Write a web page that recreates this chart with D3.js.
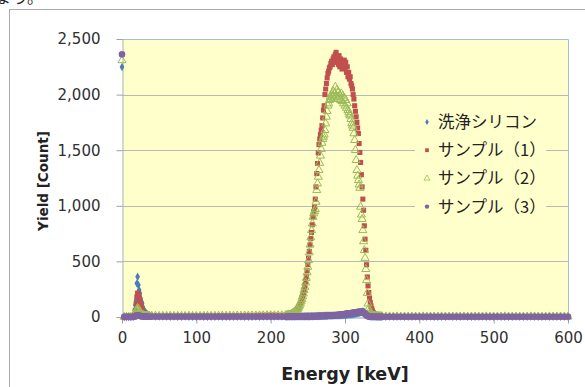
<!DOCTYPE html>
<html>
<head>
<meta charset="utf-8">
<script src="https://cdn.jsdelivr.net/npm/d3@7"></script>
<style>
  body { margin: 0; background: #fff; }
  svg { display: block; }
</style>
</head>
<body>
<svg id="chart" width="585" height="387"></svg>
<script>
// channel energies [keV]
const energy = [
  0, 3, 6, 9, 12, 15, 17, 18, 19, 20, 21, 22, 23, 24, 25, 26, 27, 28, 29, 30, 31, 32, 33, 34, 35, 37, 40,
  45, 50, 55, 60, 65, 70, 75, 80, 85, 90, 95, 100, 105, 110, 115, 120, 125, 130, 135, 140, 145, 150, 155, 160, 165, 170, 175, 180, 185, 190, 195, 200, 205, 210, 215,
  220, 221, 222, 223, 224, 225, 226, 227, 228, 229,
  230, 231, 232, 233, 234, 235, 236, 237, 238, 239,
  240, 241, 242, 243, 244, 245, 246, 247, 248, 249,
  250, 251, 252, 253, 254, 255, 256, 257, 258, 259,
  260, 261, 262, 263, 264, 265, 266, 267, 268, 269,
  270, 271, 272, 273, 274, 275, 276, 277, 278, 279,
  280, 281, 282, 283, 284, 285, 286, 287, 288, 289,
  290, 291, 292, 293, 294, 295, 296, 297, 298, 299,
  300, 301, 302, 303, 304, 305, 306, 307, 308, 309,
  310, 311, 312, 313, 314, 315, 316, 317, 318, 319,
  320, 321, 322, 323, 324, 325, 326, 327, 328, 329,
  330, 331, 332, 333, 334, 335, 336, 337, 338, 339,
  340, 341, 342, 343, 344, 345, 346, 347, 348, 349, 350,
  355, 360, 365, 370, 375, 380, 385, 390, 395, 400, 405, 410, 415, 420, 425, 430, 435, 440, 445, 450,
  455, 460, 465, 470, 475, 480, 485, 490, 495, 500, 505, 510, 515, 520, 525, 530, 535, 540, 545, 550,
  555, 560, 565, 570, 575, 580, 585, 590, 595, 600
]

// 洗浄シリコン
const cleanSi = [
  2248, 0, 0, 0, 0, 0, 60, 108, 153, 303, 362, 288, 243, 213, 168, 140, 123, 90, 70, 55, 45, 38, 33, 25, 18, 12, 8,
  4, 3, 3, 3, 2, 3, 2, 2, 3, 2, 2, 2, 3, 2, 2, 2, 2, 3, 2, 2, 2, 2, 2, 3, 2, 2, 2, 3, 2, 3, 3, 3, 4, 4, 4,
  4, 4, 5, 4, 5, 4, 5, 5, 4, 5,
  5, 5, 4, 5, 5, 6, 5, 5, 6, 5,
  6, 6, 5, 6, 6, 7, 6, 6, 7, 6,
  7, 7, 6, 7, 7, 8, 7, 7, 8, 8,
  8, 8, 9, 8, 9, 9, 9, 10, 9, 10,
  10, 10, 11, 10, 11, 11, 12, 11, 12, 12,
  12, 13, 12, 13, 14, 13, 14, 14, 15, 14,
  15, 16, 15, 16, 17, 16, 17, 18, 17, 18,
  19, 20, 19, 21, 22, 21, 23, 24, 23, 25,
  26, 27, 28, 29, 30, 32, 33, 35, 36, 38,
  40, 42, 45, 48, 50, 47, 44, 40, 34, 28,
  20, 14, 10, 7, 5, 4, 4, 3, 3, 3,
  3, 3, 3, 2, 3, 2, 3, 2, 2, 3, 2,
  2, 3, 2, 2, 3, 2, 2, 2, 3, 2, 2, 2, 3, 2, 2, 2, 2, 3, 2, 2,
  2, 3, 2, 2, 2, 2, 3, 2, 2, 2, 3, 2, 2, 2, 2, 3, 2, 2, 2, 3,
  2, 2, 2, 3, 2, 2, 2, 2, 3, 2
]

// サンプル（1）
const sample1 = [
  2360, 0, 0, 0, 0, 0, 20, 60, 120, 180, 215, 210, 185, 150, 120, 95, 70, 52, 40, 30, 24, 20, 17, 15, 13, 12, 11,
  11, 10, 10, 11, 10, 9, 10, 9, 10, 11, 10, 9, 10, 11, 10, 11, 12, 11, 12, 12, 11, 12, 13, 12, 13, 14, 13, 14, 15, 15, 16, 17, 16, 15, 15,
  15, 16, 17, 18, 20, 22, 24, 27, 30, 34,
  38, 43, 48, 54, 60, 67, 76, 86, 98, 112,
  128, 146, 166, 190, 216, 245, 280, 320, 365, 415,
  470, 530, 590, 650, 705, 760, 830, 900, 950, 990,
  1060, 1170, 1290, 1380, 1475, 1550, 1600, 1640, 1680, 1720,
  1790, 1860, 1900, 2000, 2050, 2100, 2150, 2190, 2210, 2240,
  2250, 2280, 2300, 2270, 2320, 2340, 2290, 2360, 2380, 2330,
  2300, 2270, 2350, 2250, 2320, 2280, 2230, 2300, 2260, 2310,
  2240, 2290, 2200, 2250, 2160, 2200, 2140, 2160, 2100, 2080,
  2050, 2000, 1960, 1900, 1850, 1800, 1750, 1700, 1650, 1560,
  1480, 1390, 1280, 1170, 1060, 960, 820, 700, 600, 470,
  360, 280, 220, 170, 130, 100, 75, 55, 40, 30,
  22, 18, 15, 12, 10, 8, 7, 6, 5, 5, 4,
  4, 3, 4, 3, 3, 4, 3, 3, 3, 4, 3, 3, 3, 4, 3, 3, 3, 3, 4, 3,
  3, 3, 3, 3, 4, 3, 3, 3, 3, 3, 4, 3, 3, 3, 3, 3, 3, 4, 3, 3,
  3, 3, 3, 3, 3, 4, 3, 3, 3, 3
]

// サンプル（2）
const sample2 = [
  2308, 0, 0, 0, 0, 0, 10, 25, 45, 70, 80, 75, 60, 45, 35, 28, 22, 18, 15, 13, 12, 11, 11, 10, 10, 10, 10,
  10, 9, 9, 9, 10, 9, 8, 9, 9, 10, 9, 8, 9, 9, 10, 9, 10, 10, 11, 10, 11, 11, 12, 11, 12, 12, 13, 12, 13, 14, 14, 15, 14, 14, 14,
  14, 15, 15, 16, 17, 19, 21, 23, 26, 29,
  33, 37, 42, 48, 55, 62, 70, 80, 92, 106,
  122, 140, 160, 185, 210, 240, 270, 310, 350, 400,
  450, 510, 580, 650, 715, 780, 840, 900, 930, 950,
  970, 1035, 1140, 1200, 1260, 1320, 1385, 1450, 1510, 1565,
  1600, 1620, 1640, 1680, 1740, 1800, 1850, 1900, 1920, 1950,
  1980, 1960, 2000, 1990, 2030, 1970, 2010, 2070, 1990, 2040,
  1960, 2020, 1980, 2000, 1950, 2010, 1940, 1990, 1920, 1970,
  1900, 1950, 1880, 1920, 1860, 1840, 1820, 1810, 1780, 1740,
  1720, 1700, 1650, 1590, 1500, 1410, 1320, 1270, 1230, 1190,
  1160, 990, 920, 880, 780, 680, 600, 530, 430, 330,
  215, 120, 75, 50, 35, 25, 18, 14, 12, 11,
  10, 9, 8, 8, 7, 7, 6, 6, 6, 5, 5,
  4, 4, 3, 4, 3, 3, 4, 3, 3, 3, 4, 3, 3, 3, 3, 4, 3, 3, 3, 3,
  3, 4, 3, 3, 3, 3, 3, 4, 3, 3, 3, 3, 4, 3, 3, 3, 3, 3, 3, 4,
  3, 3, 3, 3, 4, 3, 3, 3, 3, 3
]

// サンプル（3）
const sample3 = [
  2362, 1, 1, 1, 1, 2, 5, 8, 12, 15, 15, 14, 12, 10, 8, 7, 6, 5, 5, 4, 4, 4, 4, 3, 3, 3, 3,
  3, 3, 2, 3, 2, 3, 2, 2, 3, 2, 2, 3, 2, 2, 2, 3, 2, 2, 2, 3, 2, 2, 2, 3, 2, 3, 3, 3, 3, 3, 3, 3, 3, 3, 3,
  3, 3, 4, 3, 3, 4, 3, 4, 3, 4,
  4, 3, 4, 4, 4, 3, 4, 4, 4, 5,
  4, 5, 4, 5, 5, 4, 5, 5, 5, 6,
  5, 6, 5, 6, 6, 6, 7, 6, 7, 7,
  7, 7, 8, 7, 8, 8, 8, 9, 8, 9,
  9, 10, 9, 10, 10, 11, 10, 11, 11, 12,
  12, 12, 13, 13, 14, 14, 15, 15, 16, 17,
  17, 18, 19, 20, 21, 22, 23, 24, 25, 26,
  27, 28, 29, 30, 31, 32, 33, 34, 35, 36,
  37, 38, 40, 41, 42, 43, 44, 45, 46, 46,
  47, 47, 46, 45, 42, 38, 33, 27, 21, 15,
  10, 7, 5, 4, 3, 3, 3, 2, 3, 2,
  2, 3, 2, 2, 3, 2, 2, 2, 3, 2, 2,
  2, 2, 2, 2, 2, 2, 2, 2, 2, 2, 2, 2, 2, 2, 2, 2, 2, 2, 2, 2,
  2, 2, 2, 2, 2, 2, 2, 2, 2, 2, 2, 2, 2, 2, 2, 2, 2, 2, 2, 2,
  2, 2, 2, 2, 2, 2, 2, 2, 2, 2
]

const seriesNames = ["洗浄シリコン", "サンプル（1）", "サンプル（2）", "サンプル（3）"]
const xTicks = [0, 100, 200, 300, 400, 500, 600]
const yTicks = [0, 500, 1000, 1500, 2000, 2500]

const plot = { left: 122, right: 568, top: 39, bottom: 317 }
const numFont = "'DejaVu Sans', Verdana, sans-serif"
const jpFont = "'Noto Sans CJK JP', 'Noto Sans', sans-serif"

const series = [
  { name: seriesNames[0], values: cleanSi, color: "#4a7ebb", symbol: d3.symbolDiamond, size: 20, open: false },
  { name: seriesNames[1], values: sample1, color: "#c0504d", symbol: d3.symbolSquare, size: 26, open: false },
  { name: seriesNames[2], values: sample2, color: "#9bbb59", symbol: d3.symbolTriangle, size: 28, open: true },
  { name: seriesNames[3], values: sample3, color: "#8064a2", symbol: d3.symbolCircle, size: 34, open: false }
]
series.forEach(s => { if (s.values.length !== energy.length) console.error("length mismatch", s.name, s.values.length) })

const svg = d3.select("#chart")

const x = d3.scaleLinear().domain([0, 600]).range([plot.left, plot.right])
const y = d3.scaleLinear().domain([0, 2500]).range([plot.bottom, plot.top])

// chart frame (cut by the window)
svg.append("rect")
  .attr("x", 9.5).attr("y", 9.5)
  .attr("width", 620).attr("height", 420)
  .attr("fill", "#fff")
  .attr("stroke", "#aaaaaa")

// leftover of the text above the chart
svg.append("text")
  .attr("x", -4).attr("y", 3)
  .attr("font-family", jpFont)
  .attr("font-size", 16)
  .attr("fill", "#222")
  .text("ょう。")

// plot area
svg.append("rect")
  .attr("x", plot.left).attr("y", plot.top)
  .attr("width", plot.right - plot.left).attr("height", plot.bottom - plot.top)
  .attr("fill", "#ffffcc")

svg.append("g")
  .selectAll("line")
  .data(yTicks.filter(d => d > 0 && d < 2500))
  .join("line")
  .attr("x1", plot.left).attr("x2", plot.right)
  .attr("y1", d => Math.round(y(d)) + 0.5).attr("y2", d => Math.round(y(d)) + 0.5)
  .attr("stroke", "#b8b8b8")

// plot border (top / right)
svg.append("path")
  .attr("d", `M${plot.left},${plot.top + 0.5}H${plot.right + 0.5}V${plot.bottom}`)
  .attr("fill", "none")
  .attr("stroke", "#a9bcd6")

// axes
const yAxis = svg.append("g")
  .attr("transform", `translate(${plot.left + 0.5},0)`)
  .call(d3.axisLeft(y).tickValues(yTicks).tickFormat(d3.format(",")).tickSize(6).tickSizeOuter(0).tickPadding(16))
yAxis.select(".domain").attr("stroke", "#a9b6c8")
yAxis.selectAll(".tick line").attr("stroke", "#a0a0a0")
yAxis.selectAll("text").attr("font-family", numFont).attr("font-size", 15).attr("fill", "#303030")

const xAxis = svg.append("g")
  .attr("transform", `translate(0,${plot.bottom + 0.5})`)
  .call(d3.axisBottom(x).tickValues(xTicks).tickSize(6).tickSizeOuter(0).tickPadding(9))
xAxis.select(".domain").attr("stroke", "#a0a0a0")
xAxis.selectAll(".tick line").attr("stroke", "#a0a0a0")
xAxis.selectAll("text").attr("font-family", numFont).attr("font-size", 15).attr("fill", "#303030")

// axis titles
svg.append("text")
  .attr("x", 345).attr("y", 380)
  .attr("text-anchor", "middle")
  .attr("font-family", numFont).attr("font-weight", "bold").attr("font-size", 17.5)
  .attr("fill", "#222")
  .text("Energy [keV]")

svg.append("text")
  .attr("transform", "translate(48,181) rotate(-90)")
  .attr("text-anchor", "middle")
  .attr("font-family", numFont).attr("font-weight", "bold").attr("font-size", 13.5)
  .attr("fill", "#222")
  .text("Yield [Count]")

// data points
const marks = svg.append("g")
series.forEach(s => {
  const sym = d3.symbol().type(s.symbol).size(s.size)
  marks.append("g")
    .selectAll("path")
    .data(energy.map((e, i) => [e, s.values[i]]))
    .join("path")
    .attr("transform", d => `translate(${x(d[0])},${y(d[1])})`)
    .attr("d", sym)
    .attr("fill", s.open ? "none" : s.color)
    .attr("stroke", s.open ? s.color : "none")
    .attr("stroke-width", 1)
})

// legend
const legend = svg.append("g")
legend.append("rect")
  .attr("x", 415).attr("y", 108)
  .attr("width", 131).attr("height", 112)
  .attr("fill", "#ffffcc")

const rows = legend.selectAll("g.row")
  .data(series)
  .join("g")
  .attr("class", "row")
  .attr("transform", (d, i) => `translate(427,${122 + i * 28.2})`)

rows.append("path")
  .attr("d", d => d3.symbol().type(d.symbol).size(Math.min(d.size, 28) * 0.55)())
  .attr("fill", d => d.open ? "none" : d.color)
  .attr("stroke", d => d.open ? d.color : "none")
  .attr("stroke-width", 0.8)

rows.append("text")
  .attr("x", 11).attr("dy", "0.36em")
  .attr("font-family", jpFont).attr("font-size", 16.5)
  .attr("fill", "#222")
  .text(d => d.name)
</script>
</body>
</html>
